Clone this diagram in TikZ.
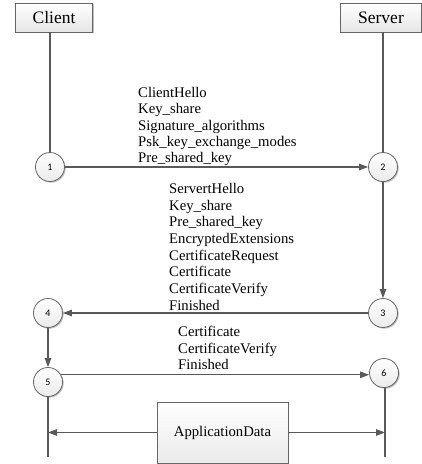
\documentclass[tikz,border=0pt]{standalone}
\usepackage{fontspec}
\setmainfont{Liberation Serif}
\newfontfamily\numfont{Carlito}
\usetikzlibrary{arrows.meta,shadows,calc}
\begin{document}
\begin{tikzpicture}[x=1pt,y=-1pt,
  line/.style={draw=black!65, line width=1.1pt},
  arr/.style={line, -{Triangle[length=9pt,width=6.5pt]}},
  softshadow/.style={drop shadow={shadow xshift=1.2pt, shadow yshift=-1.2pt, opacity=0.25, fill=black}},
  actor/.style={draw=black!60, line width=0.8pt, top color=white, bottom color=black!10,
    minimum width=77pt, minimum height=29pt, inner sep=0pt,
    font=\fontsize{17.5}{20}\selectfont, softshadow},
  appbox/.style={draw=black!60, line width=0.8pt, top color=white, bottom color=black!8,
    minimum width=131pt, minimum height=61pt, inner sep=0pt,
    font=\fontsize{14.7}{17}\selectfont, softshadow},
  stepc/.style={circle, draw=black!60, line width=0.8pt, top color=white, bottom color=black!8,
    minimum size=29pt, inner sep=0pt, font=\numfont\fontsize{10}{12}\selectfont, softshadow},
  msg/.style={align=left, anchor=north west, inner sep=0pt}]
\useasboundingbox (0,0) rectangle (422,464);

\node[actor] (client) at (54,17.5) {Client};
\node[actor, minimum width=81pt] (server) at (381,17.5) {Server};

\node[stepc] (c1) at (50,167) {1};
\node[stepc] (c2) at (383,167) {2};
\node[stepc] (c3) at (383,313) {3};
\node[stepc] (c4) at (48,313) {4};
\node[stepc] (c5) at (48,382) {5};
\node[stepc] (c6) at (384,373) {6};

\node[appbox] (app) at (222.5,432.5) {ApplicationData};

\coordinate (e5) at (48,457);
\coordinate (e6) at (385,457);

\draw[line] (client.south -| c1.north) -- (c1.north);
\draw[line] (server.south -| c2.north) -- (c2.north);
\draw[arr] (c1) -- (c2);
\draw[arr] (c2) -- (c3);
\draw[arr] (c3) -- (c4);
\draw[arr] (c4) -- (c5);
\draw[arr] (c5.29) -- (c5.29 -| c6.west);
\draw[line] (c5.south) -- (e5);
\draw[line] (c6.south -| e6) -- (e6);
\draw[arr] (app.west) -- (app.west -| e5);
\draw[arr] (app.east) -- (app.east -| e6);

\node[msg, font=\fontsize{14.7}{16.3}\selectfont] (m1) at (138,87)
  {ClientHello\\Key\_share\\Signature\_algorithms\\Psk\_key\_exchange\_modes\\Pre\_shared\_key};
\node[msg, font=\fontsize{14.7}{16.7}\selectfont] (m2) at (169,183)
  {ServertHello\\Key\_share\\Pre\_shared\_key\\EncryptedExtensions\\CertificateRequest\\Certificate\\CertificateVerify\\Finished};
\node[msg, font=\fontsize{14.7}{16.5}\selectfont] (m3) at (178,326)
  {Certificate\\CertificateVerify\\Finished};
\end{tikzpicture}
\end{document}
